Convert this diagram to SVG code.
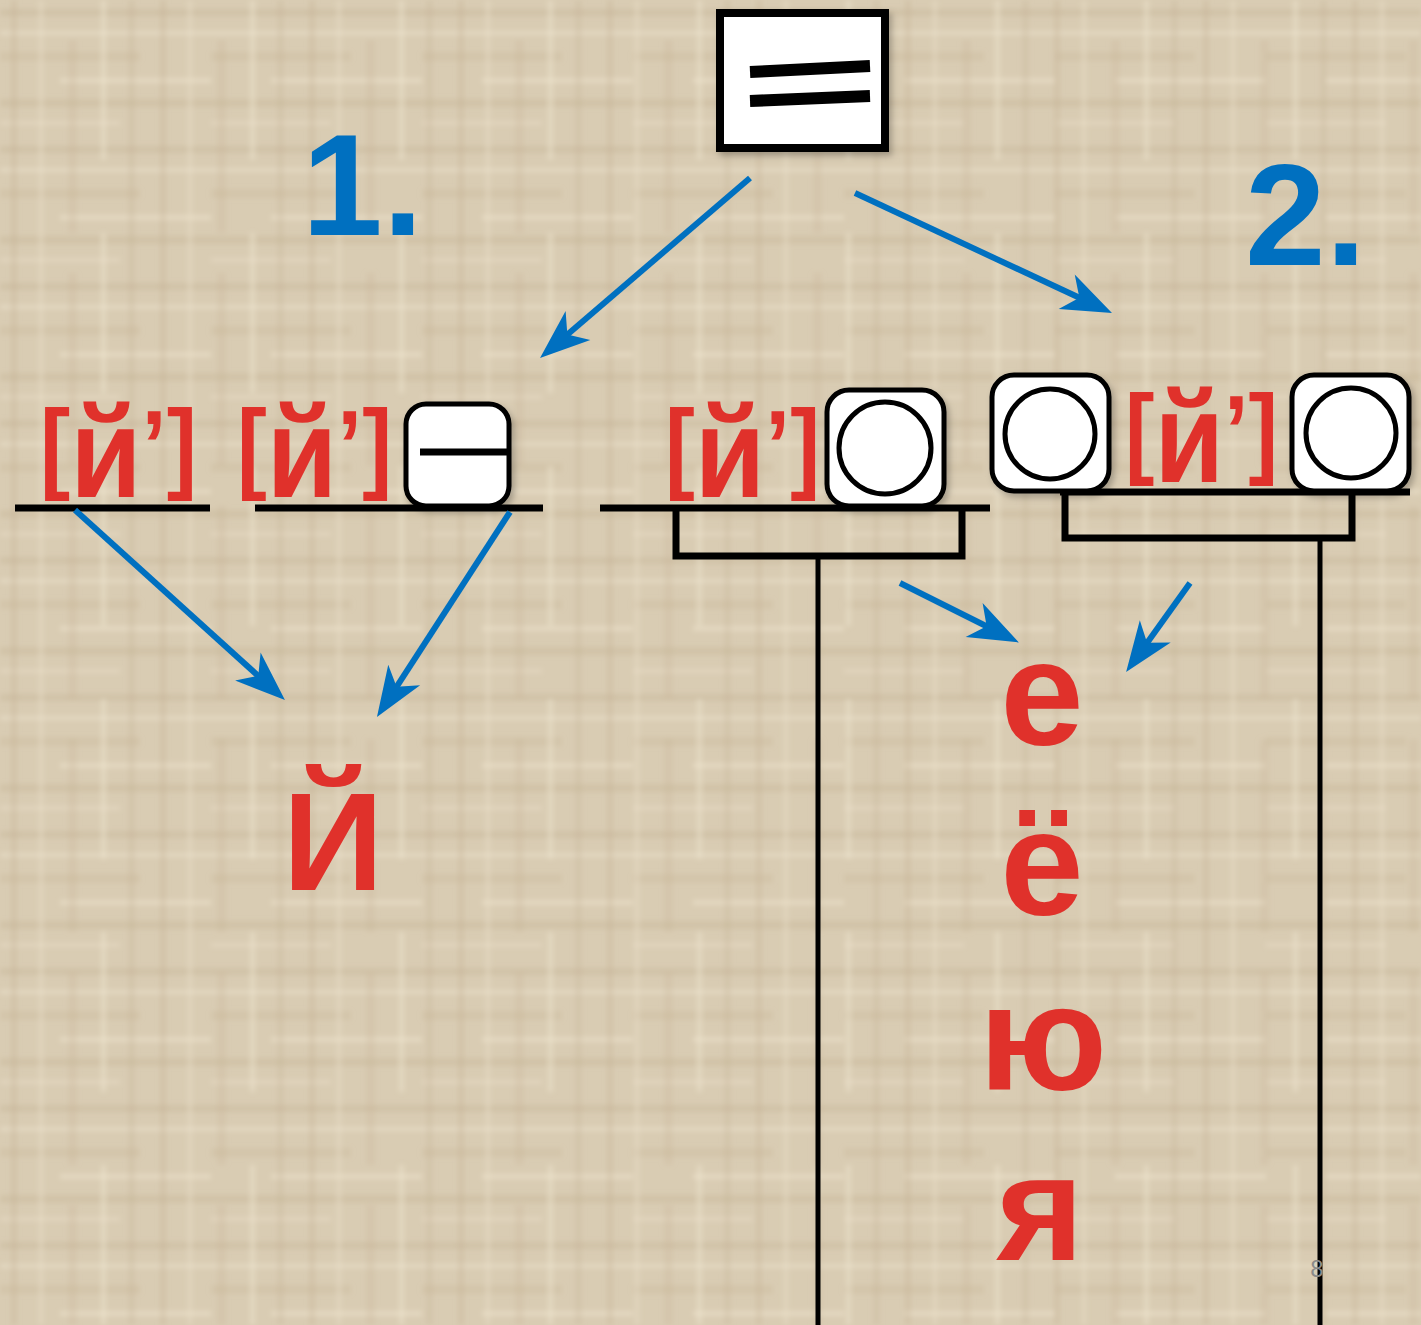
<svg xmlns="http://www.w3.org/2000/svg" width="1421" height="1325" viewBox="0 0 1421 1325">
<defs>
<pattern id="texH" width="211" height="137" patternUnits="userSpaceOnUse">
<rect x="0" y="9" width="211" height="7" fill="#c3b293" opacity="0.35"/>
<rect x="0" y="31" width="211" height="4" fill="#f0e6d2" opacity="0.45"/>
<rect x="0" y="52" width="140" height="9" fill="#c7b699" opacity="0.3"/>
<rect x="60" y="78" width="151" height="5" fill="#efe5d0" opacity="0.5"/>
<rect x="0" y="99" width="211" height="8" fill="#c0af90" opacity="0.3"/>
<rect x="0" y="121" width="120" height="4" fill="#ede2cc" opacity="0.4"/>
</pattern>
<pattern id="texV" width="149" height="233" patternUnits="userSpaceOnUse">
<rect x="11" y="0" width="6" height="233" fill="#c3b294" opacity="0.3"/>
<rect x="39" y="0" width="4" height="233" fill="#eee3cd" opacity="0.4"/>
<rect x="68" y="40" width="9" height="193" fill="#c6b598" opacity="0.25"/>
<rect x="101" y="0" width="5" height="160" fill="#f0e6d1" opacity="0.45"/>
<rect x="128" y="0" width="7" height="233" fill="#c2b192" opacity="0.25"/>
</pattern>
<filter id="blur" x="0" y="0" width="1" height="1"><feGaussianBlur stdDeviation="2.5"/></filter>
<filter id="sh" x="-10%" y="-10%" width="130%" height="130%"><feDropShadow dx="3" dy="4" stdDeviation="3" flood-color="#000" flood-opacity="0.25"/></filter>
<marker id="ah" markerUnits="userSpaceOnUse" markerWidth="56" markerHeight="44" viewBox="-52 -22 56 44" refX="-30" refY="0" orient="auto">
<path d="M0,0 L-50,-19 L-36,0 L-50,19 Z" fill="#0070c0"/>
</marker>
<style>
.blk{stroke:#000;fill:none;stroke-linecap:butt}
.box{fill:#fff;stroke:#000;stroke-width:5}
.circ{fill:#fff;stroke:#000;stroke-width:5}
.arr{stroke:#0070c0;stroke-width:6;fill:none;marker-end:url(#ah)}
.red{fill:#e0312b;font-family:"Liberation Sans",Arial,sans-serif;font-weight:bold}
.num{fill:#0070c0;font-family:"Liberation Sans",Arial,sans-serif;font-weight:bold;font-size:145px}
</style>
</defs>
<g id="background">
<rect width="1421" height="1325" fill="#d9ccb3"/>
<g filter="url(#blur)">
<rect width="1421" height="1325" fill="url(#texH)"/>
<rect width="1421" height="1325" fill="url(#texV)"/>
</g>
</g>

<g id="top-box" filter="url(#sh)">
<rect x="720" y="13" width="165" height="135" fill="#fff" stroke="#000" stroke-width="8"/>
<line x1="750" y1="72" x2="870" y2="66" stroke="#000" stroke-width="12"/>
<line x1="750" y1="101" x2="870" y2="96" stroke="#000" stroke-width="12"/>
</g>

<g id="label-1"><text class="num" x="302" y="235">1.</text></g>
<g id="label-2"><text class="num" x="1245" y="265">2.</text></g>

<g id="scheme-1a">
<line class="blk" x1="15" y1="508" x2="210" y2="508" stroke-width="7"/>
<text class="red" x="40" y="480" font-size="100" textLength="157" lengthAdjust="spacingAndGlyphs">[<tspan font-size="128" dy="17">й</tspan><tspan dy="-17">’]</tspan></text>
</g>

<g id="scheme-1b">
<line class="blk" x1="255" y1="508" x2="543" y2="508" stroke-width="7"/>
<text class="red" x="237" y="480" font-size="100" textLength="155" lengthAdjust="spacingAndGlyphs">[<tspan font-size="128" dy="17">й</tspan><tspan dy="-17">’]</tspan></text>
<g filter="url(#sh)">
<rect class="box" x="406" y="404" width="103" height="102" rx="20"/>
<line class="blk" x1="420" y1="452" x2="508" y2="452" stroke-width="7"/>
</g>
</g>

<g id="scheme-2a">
<line class="blk" x1="600" y1="508" x2="990" y2="508" stroke-width="7"/>
<text class="red" x="665" y="480" font-size="100" textLength="155" lengthAdjust="spacingAndGlyphs">[<tspan font-size="128" dy="17">й</tspan><tspan dy="-17">’]</tspan></text>
<g filter="url(#sh)">
<rect class="box" x="827" y="390" width="117" height="116" rx="22"/>
<circle class="circ" cx="885" cy="448" r="46"/>
</g>
<polyline class="blk" points="676,511 676,556 962,556 962,511" stroke-width="7"/>
<line class="blk" x1="818" y1="556" x2="818" y2="1325" stroke-width="5"/>
</g>

<g id="scheme-2b">
<line class="blk" x1="1060" y1="492" x2="1410" y2="492" stroke-width="7"/>
<g filter="url(#sh)">
<rect class="box" x="992" y="375" width="117" height="116" rx="22"/>
<circle class="circ" cx="1050" cy="434" r="45"/>
</g>
<text class="red" x="1125" y="465" font-size="100" textLength="153" lengthAdjust="spacingAndGlyphs">[<tspan font-size="128" dy="17">й</tspan><tspan dy="-17">’]</tspan></text>
<g filter="url(#sh)">
<rect class="box" x="1292" y="375" width="117" height="116" rx="22"/>
<circle class="circ" cx="1351" cy="433" r="45"/>
</g>
<polyline class="blk" points="1065,495 1065,538 1352,538 1352,495" stroke-width="7"/>
<line class="blk" x1="1320" y1="538" x2="1320" y2="1325" stroke-width="5"/>
</g>

<g id="letter-y"><text class="red" x="333" y="890" font-size="140" text-anchor="middle">Й</text></g>
<g id="vowels">
<text class="red" x="1042" y="745" font-size="150" text-anchor="middle">е</text>
<text class="red" x="1042" y="915" font-size="150" text-anchor="middle">ё</text>
<text class="red" x="1043" y="1090" font-size="150" text-anchor="middle">ю</text>
<text class="red" x="1040" y="1260" font-size="150" text-anchor="middle">я</text>
</g>

<g id="connectors">
<line class="arr" x1="750" y1="178" x2="562.8" y2="338.5"/>
<line class="arr" x1="855" y1="193" x2="1084.8" y2="300.3"/>
<line class="arr" x1="75" y1="510" x2="262.7" y2="679.9"/>
<line class="arr" x1="510" y1="512" x2="393.3" y2="691.8"/>
<line class="arr" x1="900" y1="583" x2="992" y2="629"/>
<line class="arr" x1="1190" y1="583" x2="1143.6" y2="647.7"/>
</g>

<text x="1317" y="1277" font-family="Liberation Sans,Arial,sans-serif" font-size="24" fill="#8a8a8a" text-anchor="middle">8</text>
</svg>
